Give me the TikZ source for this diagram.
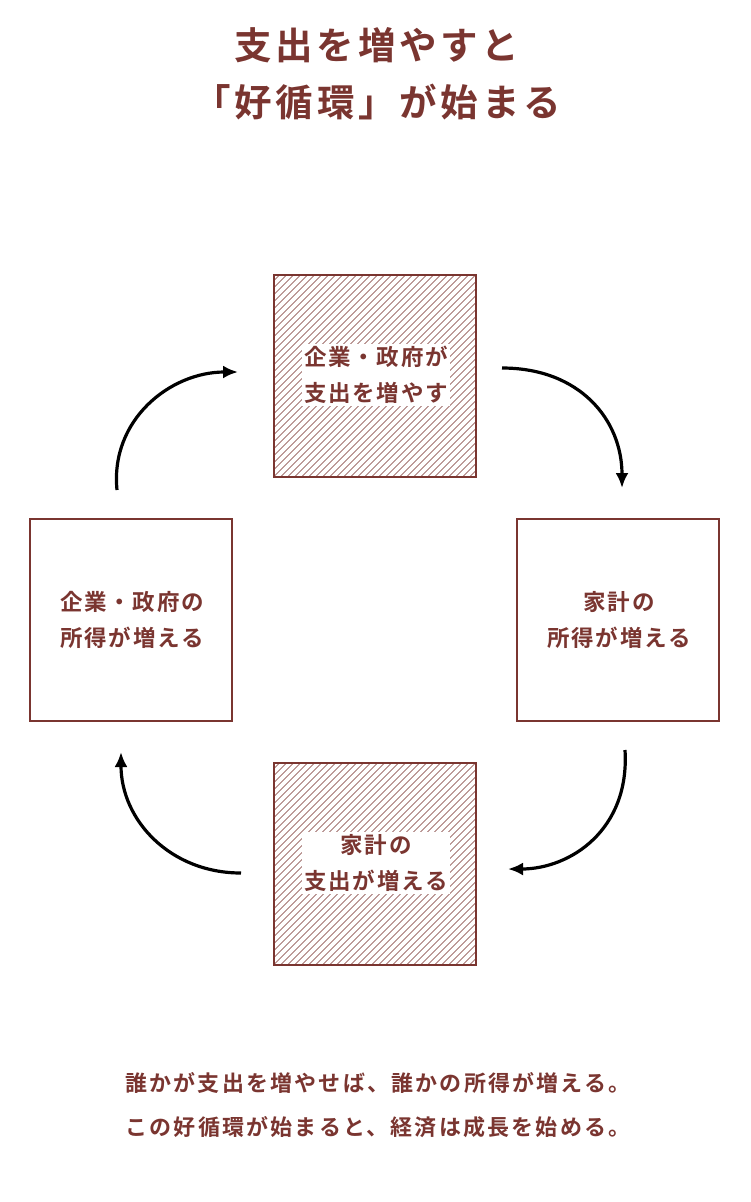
\documentclass[tikz,border=0pt]{standalone}
\usepackage{fontspec}
\newfontfamily\jpt{Noto Sans CJK JP Bold}[LetterSpace=10]
\newfontfamily\jpb{Noto Sans CJK JP Bold}[LetterSpace=8]
\newfontfamily\jpn{Noto Sans CJK JP Bold}[LetterSpace=10]
\definecolor{dred}{HTML}{7A3530}
\usetikzlibrary{arrows.meta}
\begin{document}
\begin{tikzpicture}[x=1pt,y=-1pt,
  box/.style={draw=dred,line width=2pt,minimum width=202pt,minimum height=202pt,inner sep=0pt},
  lbl/.style={font=\jpb\fontsize{22.5}{36}\selectfont,text=dred,align=center,inner sep=2pt},
  ttl/.style={font=\jpt\fontsize{37.5}{57}\selectfont,text=dred,align=center},
  note/.style={font=\jpn\fontsize{22}{44}\selectfont,text=dred,align=center},
  cyc/.style={line width=3.2pt,-{Latex[length=15pt,width=13pt]}}]
\useasboundingbox (0,0) rectangle (750,1202);
\node[ttl] (title) at (377,74) {支出を増やすと\\「好循環」が始まる};
\foreach \cx/\cy in {374.5/376, 374.5/864}{
  \begin{scope}
    \clip (\cx-101,\cy-101) rectangle (\cx+101,\cy+101);
    \foreach \i in {-210,-203,...,210}
      \draw[dred,line width=0.6pt] (\cx+\i-110,\cy+110) -- (\cx+\i+110,\cy-110);
  \end{scope}}
\node[box] (top) at (374.5,376) {};
\node[box] (bot) at (374.5,864) {};
\node[box] (left) at (130.5,620) {};
\node[box] (right) at (617.5,620) {};
\node[lbl,fill=white] (tt) at (376,375) {企業・政府が\\支出を増やす};
\node[lbl,fill=white] (bt) at (376,863) {家計の\\支出が増える};
\node[lbl] (lt) at (132,620) {企業・政府の\\所得が増える};
\node[lbl] (rt) at (619,620) {家計の\\所得が増える};
\coordinate (a1) at (502,368); \coordinate (a2) at (622,488);
\coordinate (b1) at (625,750); \coordinate (b2) at (508,869);
\coordinate (c1) at (241,873); \coordinate (c2) at (121,752);
\coordinate (d1) at (117,490); \coordinate (d2) at (238,372);
\draw[cyc] (a1) .. controls (580,368) and (622,420) .. (a2);
\draw[cyc] (b1) .. controls (630,830) and (570,869) .. (b2);
\draw[cyc] (c1) .. controls (170,873) and (121,820) .. (c2);
\draw[cyc] (d1) .. controls (110,420) and (170,372) .. (d2);
\node[note] (n) at (378,1105) {誰かが支出を増やせば、誰かの所得が増える。\\この好循環が始まると、経済は成長を始める。};
\end{tikzpicture}
\end{document}
